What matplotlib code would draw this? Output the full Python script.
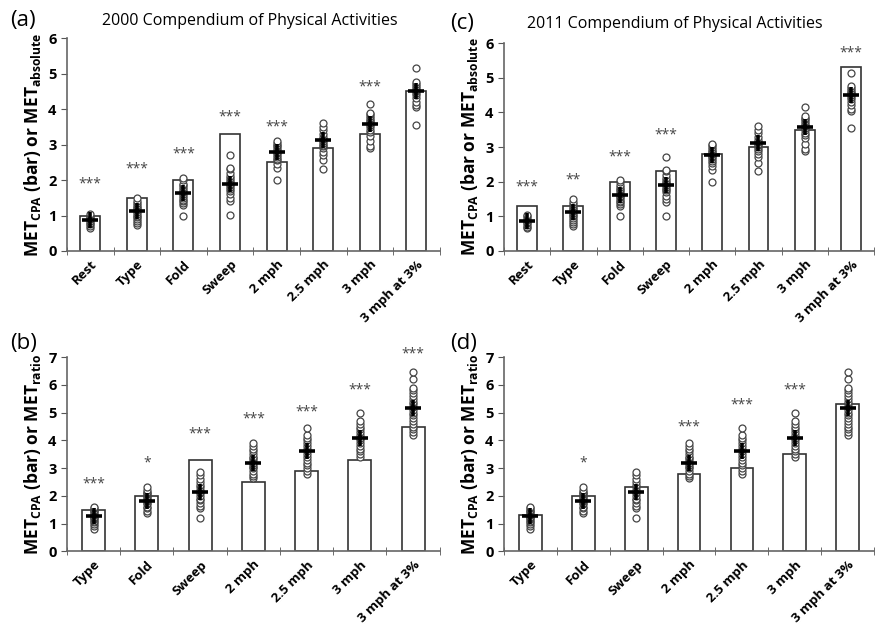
import matplotlib
matplotlib.use("Agg")
import matplotlib.pyplot as plt

plt.rcParams['font.family'] = ['Open Sans', 'DejaVu Sans']

# categories
cats_abs = ['Rest', 'Type', 'Fold', 'Sweep', '2 mph', '2.5 mph', '3 mph', '3 mph at 3%']
cats_ratio = ['Type', 'Fold', 'Sweep', '2 mph', '2.5 mph', '3 mph', '3 mph at 3%']

# compendium MET values (bars)
cpa_2000 = [1.0, 1.5, 2.0, 3.3, 2.5, 2.9, 3.3, 4.5]
cpa_2011 = [1.3, 1.3, 2.0, 2.3, 2.8, 3.0, 3.5, 5.3]
cpa_2000_r = [1.5, 2.0, 3.3, 2.5, 2.9, 3.3, 4.5]
cpa_2011_r = [1.3, 2.0, 2.3, 2.8, 3.0, 3.5, 5.3]

# measured individual values (absolute MET)
abs_points = [
    [0.65, 0.7, 0.75, 0.8, 0.85, 0.9, 0.95, 1.0, 1.05],
    [0.72, 0.78, 0.85, 0.9, 0.95, 1.0, 1.05, 1.1, 1.15, 1.2, 1.25, 1.3, 1.35, 1.4, 1.5],
    [1.0, 1.3, 1.35, 1.4, 1.45, 1.5, 1.55, 1.6, 1.65, 1.7, 1.75, 1.8, 1.85, 1.9, 2.0, 2.05],
    [1.02, 1.4, 1.5, 1.6, 1.7, 1.75, 1.8, 1.85, 1.9, 1.95, 2.0, 2.05, 2.1, 2.2, 2.3, 2.35, 2.7],
    [2.0, 2.35, 2.45, 2.55, 2.6, 2.65, 2.7, 2.75, 2.8, 2.85, 2.9, 2.95, 3.0, 3.05, 3.1],
    [2.3, 2.55, 2.7, 2.8, 2.9, 2.95, 3.0, 3.05, 3.1, 3.15, 3.2, 3.3, 3.4, 3.5, 3.6],
    [2.9, 2.95, 3.1, 3.25, 3.35, 3.4, 3.5, 3.55, 3.6, 3.65, 3.7, 3.75, 3.8, 3.85, 3.9, 4.15],
    [3.55, 4.05, 4.1, 4.2, 4.3, 4.4, 4.45, 4.5, 4.55, 4.6, 4.65, 4.7, 4.75, 5.15],
]
abs_means = [0.87, 1.12, 1.62, 1.9, 2.78, 3.12, 3.57, 4.5]

# measured individual values (ratio MET)
ratio_points = [
    [0.8, 0.9, 1.0, 1.05, 1.1, 1.15, 1.2, 1.25, 1.3, 1.35, 1.4, 1.45, 1.5, 1.55, 1.6],
    [1.38, 1.45, 1.55, 1.6, 1.7, 1.75, 1.8, 1.85, 1.9, 1.95, 2.0, 2.05, 2.1, 2.15, 2.2, 2.3],
    [1.2, 1.55, 1.65, 1.75, 1.85, 1.9, 2.0, 2.1, 2.15, 2.2, 2.3, 2.4, 2.5, 2.6, 2.75, 2.85],
    [2.65, 2.7, 2.8, 2.9, 3.0, 3.05, 3.1, 3.2, 3.3, 3.35, 3.4, 3.5, 3.6, 3.7, 3.8, 3.92],
    [2.8, 2.9, 3.0, 3.1, 3.2, 3.3, 3.4, 3.5, 3.6, 3.7, 3.8, 3.9, 4.0, 4.1, 4.2, 4.45],
    [3.4, 3.5, 3.6, 3.7, 3.8, 3.9, 4.0, 4.1, 4.2, 4.3, 4.4, 4.5, 4.6, 4.7, 5.0],
    [4.2, 4.3, 4.4, 4.5, 4.6, 4.7, 4.8, 4.9, 5.0, 5.1, 5.2, 5.3, 5.4, 5.5, 5.6, 5.7, 5.8, 5.9, 6.2, 6.45],
]
ratio_means = [1.27, 1.83, 2.15, 3.2, 3.6, 4.1, 5.18]

# significance markers and their heights
stars_a = ['***', '***', '***', '***', '***', '', '***', '']
stars_a_y = [1.9, 2.32, 2.74, 3.77, 3.49, 0, 4.62, 0]
stars_c = ['***', '**', '***', '***', '', '', '', '***']
stars_c_y = [1.85, 2.04, 2.72, 3.35, 0, 0, 0, 5.72]
stars_b = ['***', '*', '***', '***', '***', '***', '***']
stars_b_y = [2.41, 3.18, 4.24, 4.76, 5.02, 5.82, 7.12]
stars_d = ['', '*', '', '***', '***', '***', '']
stars_d_y = [0, 3.18, 0, 4.5, 5.27, 5.82, 0]


def panel(ax, cats, bars, points, means, stars, stars_y, ymax, ylabel):
    n = len(cats)
    x = list(range(n))
    ax.bar(x, bars, width=0.43, color='white', edgecolor='#333333', linewidth=1.2, zorder=1)
    for i in range(n):
        ax.plot([i] * len(points[i]), points[i], 'o', mfc='white', mec='#444444',
                ms=5, mew=0.9, zorder=2)
        if stars[i]:
            ax.text(i, stars_y[i], stars[i], ha='center', va='center', fontsize=10,
                    color='#444444')
    ax.plot(x, means, '+', color='black', ms=11, mew=2.6, zorder=3, linestyle='none')
    ax.set_xlim(-0.5, n - 0.5)
    ax.set_ylim(0, ymax)
    ax.set_yticks(range(ymax + 1))
    ax.set_xticks(x)
    ax.set_xticklabels(cats, rotation=45, ha='right', rotation_mode='anchor',
                       fontweight='bold', fontsize=9.5)
    ax.set_xticks([i + 0.5 for i in range(-1, n)], minor=True)
    ax.tick_params(axis='x', which='major', length=0, pad=5)
    ax.tick_params(axis='x', which='minor', length=6, direction='inout', color='#555555')
    ax.tick_params(axis='y', length=4, direction='out', color='#555555')
    for lab in ax.get_yticklabels():
        lab.set_fontweight('bold')
        lab.set_fontsize(10.5)
    for s in ['top', 'right']:
        ax.spines[s].set_visible(False)
    for s in ['left', 'bottom']:
        ax.spines[s].set_color('#666666')
        ax.spines[s].set_linewidth(1.2)
    ax.set_ylabel(ylabel, fontweight='bold', fontsize=12.5, labelpad=4)


fig = plt.figure(figsize=(8.77, 6.30), dpi=100)

ax_a = fig.add_axes([0.0764, 0.6016, 0.425, 0.338])
ax_c = fig.add_axes([0.5747, 0.6016, 0.422, 0.330])
ax_b = fig.add_axes([0.0764, 0.125, 0.425, 0.308])
ax_d = fig.add_axes([0.5747, 0.125, 0.422, 0.308])

panel(ax_a, cats_abs, cpa_2000, abs_points, abs_means, stars_a, stars_a_y, 6,
      r'MET$_\mathregular{CPA}$ (bar) or MET$_\mathregular{absolute}$')
panel(ax_c, cats_abs, cpa_2011, abs_points, abs_means, stars_c, stars_c_y, 6,
      r'MET$_\mathregular{CPA}$ (bar or MET$_\mathregular{absolute}$')
panel(ax_b, cats_ratio, cpa_2000_r, ratio_points, ratio_means, stars_b, stars_b_y, 7,
      r'MET$_\mathregular{CPA}$ (bar) or MET$_\mathregular{ratio}$')
panel(ax_d, cats_ratio, cpa_2011_r, ratio_points, ratio_means, stars_d, stars_d_y, 7,
      r'MET$_\mathregular{CPA}$ (bar) or MET$_\mathregular{ratio}$')

fig.text(0.285, 0.967, '2000 Compendium of Physical Activities', ha='center', va='center',
         fontsize=11.5)
fig.text(0.77, 0.962, '2011 Compendium of Physical Activities', ha='center', va='center',
         fontsize=11.5)
fig.text(0.012, 0.967, '(a)', fontsize=16, va='center')
fig.text(0.513, 0.962, '(c)', fontsize=16, va='center')
fig.text(0.012, 0.455, '(b)', fontsize=16, va='center')
fig.text(0.513, 0.455, '(d)', fontsize=16, va='center')

fig.savefig('out.png', dpi=100)
